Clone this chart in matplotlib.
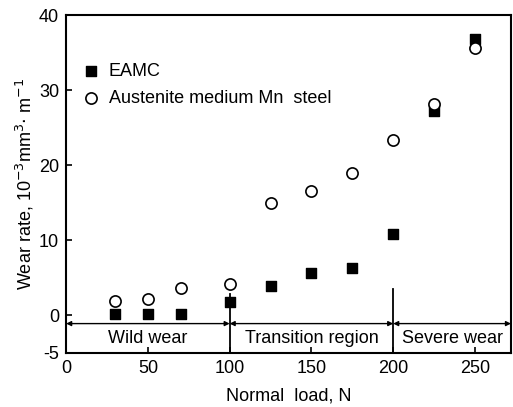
#!/usr/bin/env python3

from matplotlib import pyplot as plt
import numpy as np

# normal load, N
loads = [30, 50, 70, 100, 125, 150, 175, 200, 225, 250]
# wear rate, 10^-3 mm^3 / m
eamc = [0.2, 0.2, 0.2, 1.8, 3.9, 5.6, 6.3, 10.9, 27.2, 36.8]
austenite = [1.9, 2.2, 3.7, 4.2, 15.0, 16.5, 19.0, 23.4, 28.2, 35.6]

# wear regimes: (start, end, label)
regions = [(0, 100, 'Wild wear'), (100, 200, 'Transition region'), (200, 272, 'Severe wear')]
boundaries = [(100, 2.9), (200, 3.5)]

x_ticks = [0, 50, 100, 150, 200, 250]
y_ticks = [-5, 0, 10, 20, 30, 40]


def main():
    plt.rcParams['font.family'] = ['Liberation Sans', 'DejaVu Sans']
    plt.rcParams['axes.unicode_minus'] = False
    fig = plt.figure(figsize=(5.13, 4.07), dpi=100)
    ax = fig.add_axes([0.129, 0.133, 0.867, 0.83])

    ax.scatter(loads, eamc, marker='s', s=55, color='black', label='EAMC', zorder=3)
    ax.scatter(loads, austenite, marker='o', s=65, facecolor='white', edgecolor='black',
               linewidth=1.2, label='Austenite medium Mn  steel', zorder=3)

    # regime arrows and labels
    arrow_y = -1.1
    for start, end, label in regions:
        ax.annotate('', xy=(end, arrow_y), xytext=(start, arrow_y),
                    arrowprops=dict(arrowstyle='<|-|>', color='black', lw=1.0,
                                    mutation_scale=7, shrinkA=0, shrinkB=0))
        ax.text((start + end) / 2, -3.1, label, ha='center', va='center', fontsize=13)
    for x, top in boundaries:
        ax.plot([x, x], [-5, top], color='black', lw=1.3)

    ax.set_xlim(0, 272)
    ax.set_ylim(-5, 40)
    ax.set_xticks(x_ticks)
    ax.set_yticks(y_ticks)
    ax.tick_params(direction='in', labelsize=13, length=4, width=1.2, pad=5)
    for spine in ax.spines.values():
        spine.set_linewidth(1.5)

    ax.set_xlabel('Normal  load, N', fontsize=13, labelpad=8)
    ax.set_ylabel('Wear rate, 10$^{-3}$mm$^{3}$$\\cdot$ m$^{-1}$', fontsize=13, labelpad=2)

    ax.legend(loc='upper left', bbox_to_anchor=(0.01, 0.88), frameon=False, fontsize=13,
              handletextpad=0.2, labelspacing=0.55, borderaxespad=0, handlelength=1.5)

    plt.savefig('out.png', dpi=100)


if __name__ == '__main__':
    main()
